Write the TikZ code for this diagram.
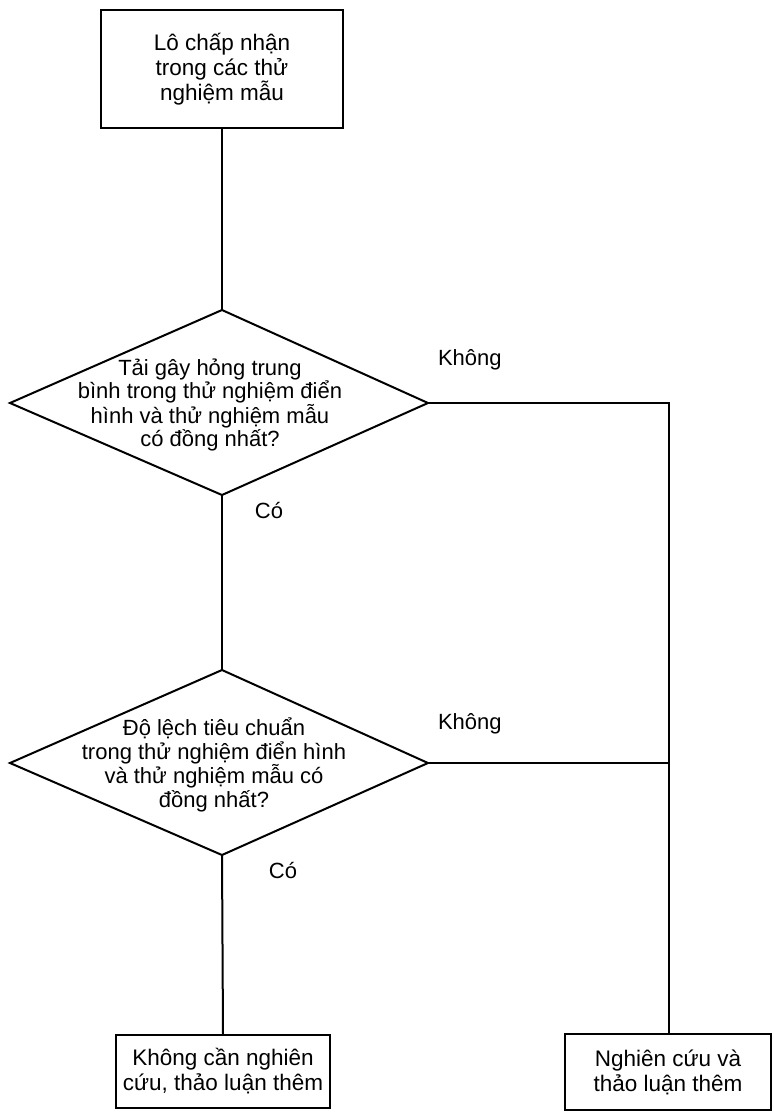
\documentclass[tikz,border=0pt]{standalone}
\usepackage{fontspec}
\setmainfont{Liberation Sans}
\begin{document}
\begin{tikzpicture}[x=1pt,y=-1pt,
  line width=2pt,
  boxnode/.style={draw, line width=2pt, align=center, inner sep=0pt,
    font=\fontsize{22.5}{25}\selectfont},
  qtext/.style={align=center, inner sep=0pt, font=\fontsize{22}{23.3}\selectfont},
  lbl/.style={inner sep=0pt, font=\fontsize{22}{24}\selectfont},
  conn/.style={line width=2pt}]
\useasboundingbox (0,0) rectangle (774,1117);

% top box
\node[boxnode, minimum width=242pt, minimum height=118pt] (start) at (222,69)
  {Lô chấp nhận\\trong các thử\\nghiệm mẫu};

% diamond 1
\coordinate (d1t) at (222,310);
\coordinate (d1r) at (428,403);
\coordinate (d1b) at (222,495);
\coordinate (d1l) at (10,403);
\draw (d1t) -- (d1r) -- (d1b) -- (d1l) -- cycle;
\node[qtext] (q1) at (210,405)
  {Tải gây hỏng trung\\bình trong thử nghiệm điển\\hình và thử nghiệm mẫu\\có đồng nhất?};

% diamond 2
\coordinate (d2t) at (222,670);
\coordinate (d2r) at (428,763);
\coordinate (d2b) at (222,855);
\coordinate (d2l) at (10,763);
\draw (d2t) -- (d2r) -- (d2b) -- (d2l) -- cycle;
\node[qtext] (q2) at (214,765)
  {Độ lệch tiêu chuẩn\\trong thử nghiệm điển hình\\và thử nghiệm mẫu có\\đồng nhất?};

% bottom boxes
\node[boxnode, minimum width=214pt, minimum height=73pt] (endok) at (223,1071.5)
  {Không cần nghiên\\cứu, thảo luận thêm};
\node[boxnode, minimum width=206pt, minimum height=76pt] (endmore) at (668,1072)
  {Nghiên cứu và\\thảo luận thêm};

% connectors
\coordinate (c1) at (669,403);
\coordinate (c2) at (669,763);
\draw[conn] (start.south) -- (d1t);
\draw[conn] (d1b) -- (d2t);
\draw[conn] (d2b) -- (endok.north);
\draw[conn] (d1r) -- (c1) -- (endmore.north -| c1);
\draw[conn] (d2r) -- (c2);

% labels
\node[lbl, anchor=base west] (k1) at (437,365) {Không};
\node[lbl, anchor=base west] (k2) at (437,729) {Không};
\node[lbl] (y1) at (269,510) {Có};
\node[lbl] (y2) at (283,870) {Có};
\end{tikzpicture}
\end{document}
